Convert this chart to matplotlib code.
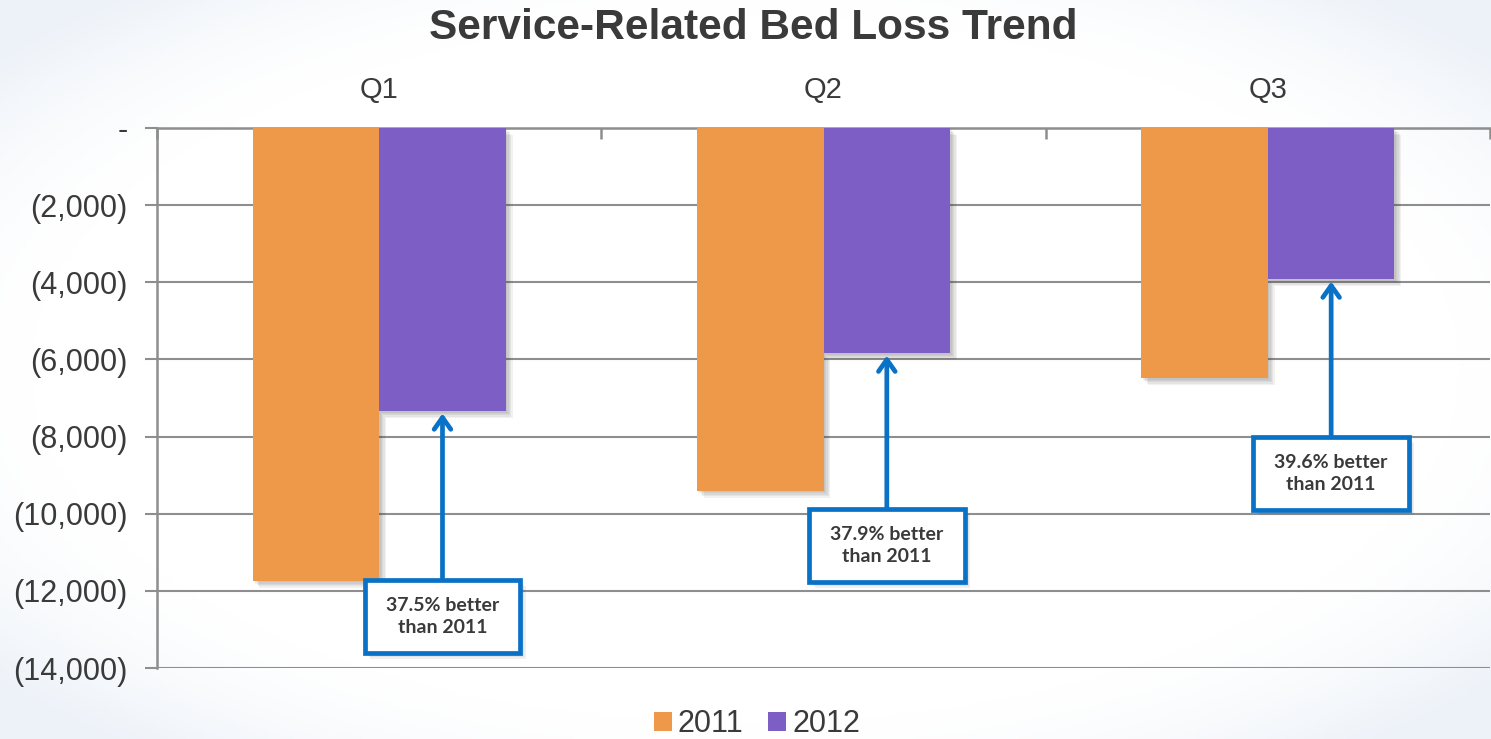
import numpy as np
import matplotlib
matplotlib.use("Agg")
import matplotlib.pyplot as plt
from matplotlib.patches import Rectangle
import matplotlib.patheffects as pe

# ---- data ----
quarters = ["Q1", "Q2", "Q3"]
series_names = ["2011", "2012"]
beds_2011 = [-11740, -9400, -6490]
beds_2012 = [-7340, -5840, -3920]
improvement_pct = [37.5, 37.9, 39.6]
y_ticks = [0, -2000, -4000, -6000, -8000, -10000, -12000, -14000]

# ---- style ----
ORANGE = "#EE994A"
PURPLE = "#7C5EC4"
BLUE = "#0A72C6"
GRID = "#8E8E8E"
TEXT = "#3A3A3A"

W, H = 1491, 739
fig = plt.figure(figsize=(W / 100, H / 100), dpi=100)

# faint bluish vignette in the page background
bg = fig.add_axes([0, 0, 1, 1], zorder=-10)
yy, xx = np.mgrid[0:1:200j, 0:1:400j]
r = np.sqrt(((xx - 0.5) / 0.6) ** 2 + ((yy - 0.5) / 0.6) ** 2)
shade = np.clip((r - 0.8) / 0.3, 0, 1) ** 1.5
base = np.array([1.0, 1.0, 1.0])
edge = np.array([0.93, 0.95, 0.975])
img = base[None, None, :] * (1 - shade[..., None]) + edge[None, None, :] * shade[..., None]
bg.imshow(img, aspect="auto", extent=[0, 1, 0, 1])
bg.set_axis_off()

left, right = 157 / W, 1490 / W
top, bottom = 1 - 128 / H, 1 - 668 / H
ax = fig.add_axes([left, bottom, right - left, top - bottom])
ax.set_facecolor("none")


def soft_shadow(steps=5, alpha=0.07):
    effects = [pe.SimplePatchShadow(offset=(k, -k), shadow_rgbFace="#404040", alpha=alpha)
               for k in range(steps, 0, -1)]
    return effects + [pe.Normal()]


x = np.arange(len(quarters))
bw = 0.285
b1 = ax.bar(x - bw / 2, beds_2011, bw, color=ORANGE, label=series_names[0], zorder=3)
b2 = ax.bar(x + bw / 2, beds_2012, bw, color=PURPLE, label=series_names[1], zorder=3)
for p in list(b1) + list(b2):
    p.set_path_effects(soft_shadow())

ax.set_xlim(-0.5, len(quarters) - 0.5)
ax.set_ylim(-14000, 0)

# y axis
ax.set_yticks(y_ticks)
ax.set_yticklabels(["-" if v == 0 else "({:,})".format(abs(v)) for v in y_ticks],
                   fontsize=22, color=TEXT, family="Liberation Sans")
ax.tick_params(axis="y", length=9, width=1.5, color=GRID, pad=12, direction="out")
ax.grid(axis="y", color=GRID, lw=1.5, zorder=0)
ax.set_axisbelow(True)

# category axis along the top
ax.xaxis.tick_top()
ax.set_xticks(np.arange(-0.5, len(quarters)), minor=False)
ax.set_xticklabels([])
ax.tick_params(axis="x", which="major", direction="in", length=8, width=1.8, color=GRID)
ax.set_xticks(x, minor=True)
ax.set_xticklabels(quarters, minor=True, fontsize=21, color=TEXT, family="Liberation Sans")
ax.tick_params(axis="x", which="minor", length=0, pad=17)

for s in ["right", "bottom"]:
    ax.spines[s].set_visible(False)
for s in ["left", "top"]:
    ax.spines[s].set_color(GRID)
    ax.spines[s].set_linewidth(1.8)

# callouts: box below each 2012 bar with an arrow pointing at its bottom
box_top = [-11720, -9880, -8010]
box_h = 1890
box_w = 0.35
for i in range(len(quarters)):
    cx = x[i] + bw / 2
    rect = Rectangle((cx - box_w / 2, box_top[i] - box_h), box_w, box_h,
                     facecolor="white", edgecolor=BLUE, lw=3.4, zorder=6)
    rect.set_path_effects(soft_shadow(4, 0.08))
    ax.add_patch(rect)
    ax.text(cx, box_top[i] - box_h / 2, f"{improvement_pct[i]}% better\nthan 2011",
            ha="center", va="center", fontsize=14, fontweight="bold", color=TEXT,
            family="Lato", linespacing=1.3, zorder=7)
    ax.annotate("", xy=(cx, beds_2012[i] - 60), xytext=(cx, box_top[i]),
                arrowprops=dict(arrowstyle="->,head_length=0.85,head_width=0.6",
                                color=BLUE, lw=3.4, shrinkA=0, shrinkB=0),
                zorder=5)

fig.text(753 / W, 1 - 28 / H, "Service-Related Bed Loss Trend", ha="center", va="center",
         fontsize=30.5, fontweight="bold", color=TEXT, family="Liberation Sans")

leg = fig.legend(handles=[b1, b2], labels=series_names, loc="center",
                 bbox_to_anchor=(757 / W, 1 - 724 / H), ncol=2, frameon=False,
                 handlelength=0.6, handleheight=0.6,
                 handletextpad=0.2, columnspacing=0.8, borderaxespad=0,
                 prop={"family": "Liberation Sans", "size": 22})
for t in leg.get_texts():
    t.set_color(TEXT)
for h in leg.legend_handles:
    h.set_path_effects([])

fig.savefig("out.png", dpi=100)
